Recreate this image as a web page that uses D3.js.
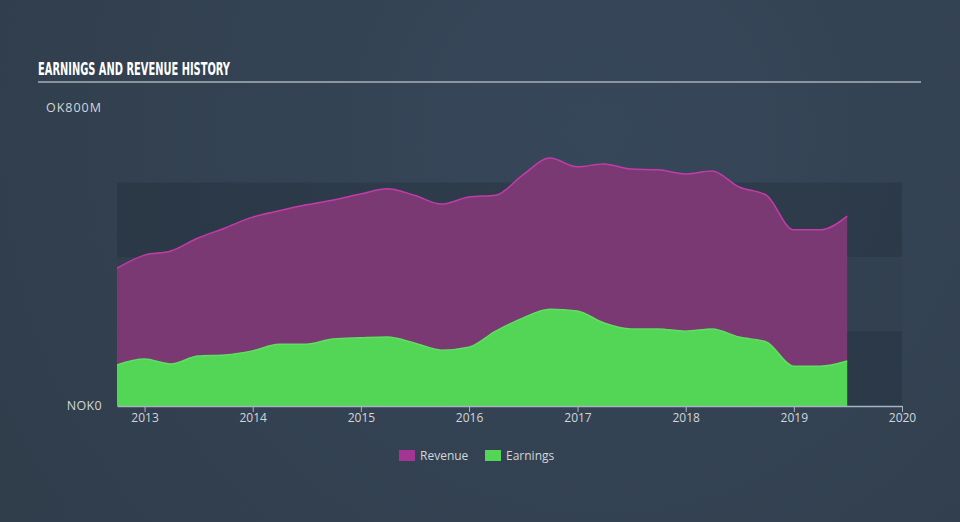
<!DOCTYPE html>
<html><head><meta charset="utf-8">
<script src="https://cdn.jsdelivr.net/npm/d3@7"></script>
<style>body{margin:0;background:#323f4e;}svg{display:block}</style>
</head><body>
<svg id="c" width="960" height="522"></svg>
<script>
const dates = ["2012-09-30","2012-12-31","2013-03-31","2013-06-30","2013-09-30","2013-12-31","2014-03-31","2014-06-30","2014-09-30","2014-12-31","2015-03-31","2015-06-30","2015-09-30","2015-12-31","2016-03-31","2016-06-30","2016-09-30","2016-12-31","2017-03-31","2017-06-30","2017-09-30","2017-12-31","2018-03-31","2018-06-30","2018-09-30","2018-12-31","2019-03-31","2019-06-30"];
const revenue = [370,405,416,451,478,507,524,540,553,569,583,566,542,561,566,620,666,642,650,636,634,623,631,588,566,473,473,510];
const earnings = [110,126,113,134,137,148,166,166,180,183,185,169,150,158,201,236,260,255,223,207,207,201,207,185,172,107,107,121];
const xTicks = ["2013","2014","2015","2016","2017","2018","2019","2020"];
const yTickValues = [0, 800];
const yTickLabels = ["NOK0", "NOK800M"];
const bandRanges = [[0,200,"dark"],[200,400,"light"],[400,600,"dark"]];
const seriesNames = ["Revenue", "Earnings"];

const svg = d3.select("#c");
const W = 960, H = 522;
const defs = svg.append("defs");
const rg = defs.append("radialGradient").attr("id","bg").attr("gradientUnits","userSpaceOnUse")
  .attr("cx",600).attr("cy",130).attr("r",700);
rg.append("stop").attr("offset","0").attr("stop-color","#37475a");
rg.append("stop").attr("offset","1").attr("stop-color","#303d4b");
svg.append("rect").attr("width",W).attr("height",H).attr("fill","url(#bg)");

const parse = d3.timeParse("%Y-%m-%d");
const x = d3.scaleTime().domain([parse("2012-09-30"), parse("2020-01-01")]).range([117, 902]);
const y = d3.scaleLinear().domain([0, 800]).range([406, 108]);

// bands
svg.append("g").selectAll("rect").data(bandRanges).join("rect")
  .attr("x", 117).attr("width", 902-117)
  .attr("y", d => y(d[1])).attr("height", d => y(d[0]) - y(d[1]))
  .attr("fill", d => d[2] === "dark" ? "rgba(20,28,38,0.22)" : "rgba(20,28,38,0.04)");

// title
svg.append("text").attr("x",38).attr("y",75).text("EARNINGS AND REVENUE HISTORY")
  .attr("font-family","'Liberation Sans Narrow','DejaVu Sans Condensed','Roboto Condensed',sans-serif")
  .attr("font-weight","bold").attr("font-size",17).attr("fill","#ffffff")
  .attr("textLength",192).attr("lengthAdjust","spacingAndGlyphs");
svg.append("line").attr("x1",38).attr("x2",921).attr("y1",82).attr("y2",82)
  .attr("stroke","#a9b0b8").attr("stroke-width",1.5);

const data = dates.map((d,i) => ({date: parse(d), rev: revenue[i], earn: earnings[i]}));
const curve = d3.curveMonotoneX;

const revArea = d3.area().x(d => x(d.date)).y0(y(0)).y1(d => y(d.rev)).curve(curve);
const revLine = d3.line().x(d => x(d.date)).y(d => y(d.rev)).curve(curve);
const earnArea = d3.area().x(d => x(d.date)).y0(y(0)).y1(d => y(d.earn)).curve(curve);
const earnLine = d3.line().x(d => x(d.date)).y(d => y(d.earn)).curve(curve);

svg.append("path").datum(data).attr("d", revArea).attr("fill","#7b3974");
svg.append("path").datum(data).attr("d", revLine).attr("fill","none").attr("stroke","#c23ca8").attr("stroke-width",1.5);
svg.append("path").datum(data).attr("d", earnArea).attr("fill","#53d655");
svg.append("path").datum(data).attr("d", earnLine).attr("fill","none").attr("stroke","#5ee060").attr("stroke-width",1.5);

// x axis
const xa = svg.append("g").attr("transform","translate(0,406)")
  .call(d3.axisBottom(x).tickValues(xTicks.map(t => parse(t+"-01-01"))).tickFormat(d3.timeFormat("%Y")).tickSize(6).tickSizeOuter(0));
xa.select(".domain").attr("stroke","#a9b2c0").attr("stroke-width",1.5);
xa.selectAll(".tick line").attr("stroke","#a9b2c0");
xa.selectAll(".tick text").attr("fill","#d2d6da").attr("font-size",12)
  .attr("font-family","'Open Sans',sans-serif").attr("dy","0.55em");

// y labels (top label is cut at the left edge, as in the original)
const clipRect = defs.append("clipPath").attr("id","yclip").append("rect").attr("x",0).attr("y",0).attr("width",300).attr("height",H);
const yl = svg.append("g").attr("clip-path","url(#yclip)").selectAll("text").data(yTickValues).join("text")
  .attr("x",102).attr("y", d => y(d)).attr("dy","0.35em").attr("text-anchor","end")
  .attr("font-family","'Open Sans',sans-serif").attr("font-size",12.5).attr("fill","#d2d6da")
  .attr("letter-spacing", d => d === 800 ? 1 : 0.3)
  .text((d,i) => yTickLabels[i]);
const topLabel = yl.filter(d => d === 800).node();
const cutX = topLabel.getStartPositionOfChar(1).x - 0.5;
clipRect.attr("x", cutX);

// legend
const legendColors = ["#a53594", "#53d655"];
const legendX = [399, 485];
const lg = svg.append("g").selectAll("g").data(seriesNames).join("g");
lg.append("rect").attr("x", (d,i) => legendX[i]).attr("y",450).attr("width",16).attr("height",11)
  .attr("fill", (d,i) => legendColors[i]);
lg.append("text").attr("x", (d,i) => legendX[i] + 21).attr("y",456).attr("dy","0.35em")
  .attr("font-family","'Open Sans',sans-serif").attr("font-size",12).attr("fill","#d2d6da")
  .text(d => d);
</script>
</body></html>
